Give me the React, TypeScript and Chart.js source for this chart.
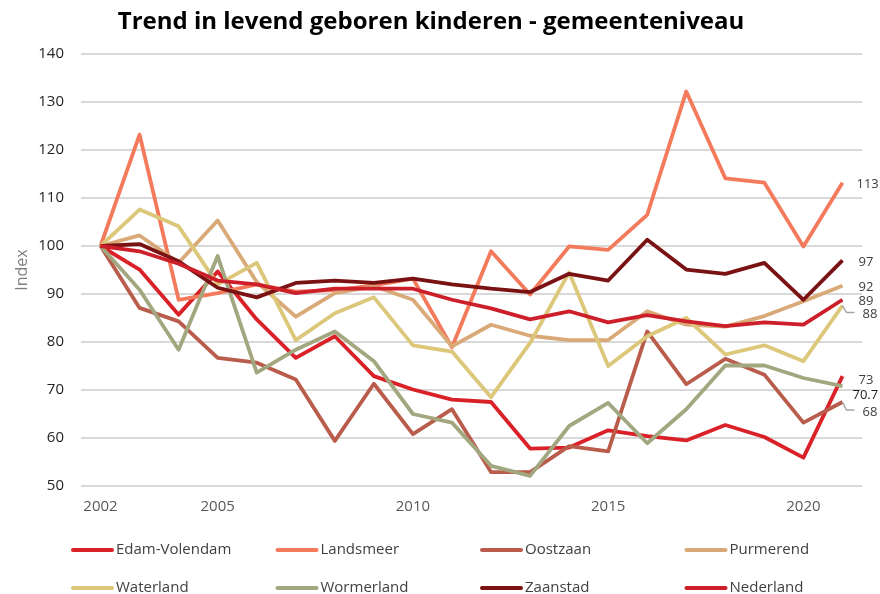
import React, { useEffect, useRef } from "react";
import { Chart, registerables } from "chart.js";

Chart.register(...registerables);

const years = ["2002", "2003", "2004", "2005", "2006", "2007", "2008", "2009", "2010", "2011", "2012", "2013", "2014", "2015", "2016", "2017", "2018", "2019", "2020", "2021"];
const xTickLabels = ["2002", "2005", "2010", "2015", "2020"];
const yTicks = [50, 60, 70, 80, 90, 100, 110, 120, 130, 140];

const seriesNames = ["Edam-Volendam", "Landsmeer", "Oostzaan", "Purmerend", "Waterland", "Wormerland", "Zaanstad", "Nederland"];

const edamVolendam = [100, 95.1, 85.7, 94.7, 84.7, 76.7, 81.2, 72.9, 70.1, 68.0, 67.5, 57.8, 58.0, 61.6, 60.4, 59.5, 62.7, 60.2, 55.9, 72.9];
const landsmeer = [100, 123.2, 88.8, 90.2, 92.0, 90.5, 90.8, 91.8, 93.2, 78.9, 98.9, 89.9, 99.9, 99.2, 106.5, 132.2, 114.1, 113.2, 99.9, 113.2];
const oostzaan = [100, 87.1, 84.3, 76.7, 75.7, 72.2, 59.4, 71.3, 60.8, 66.0, 52.9, 52.9, 58.3, 57.2, 82.2, 71.2, 76.5, 73.2, 63.2, 67.5];
const purmerend = [100, 102.2, 96.5, 105.3, 92.5, 85.3, 90.2, 91.6, 88.8, 79.1, 83.6, 81.3, 80.4, 80.4, 86.4, 83.6, 83.2, 85.4, 88.5, 91.7];
const waterland = [100, 107.6, 104.1, 92.0, 96.5, 80.4, 86.0, 89.3, 79.3, 78.0, 68.5, 79.8, 94.5, 75.0, 81.2, 85.0, 77.4, 79.3, 76.0, 87.6];
const wormerland = [100, 90.9, 78.4, 97.9, 73.6, 78.4, 82.2, 76.0, 65.0, 63.2, 54.2, 52.1, 62.5, 67.3, 58.9, 66.0, 75.1, 75.1, 72.5, 70.8];
const zaanstad = [100, 100.4, 96.8, 91.3, 89.3, 92.3, 92.8, 92.3, 93.2, 92.0, 91.1, 90.4, 94.2, 92.8, 101.3, 95.1, 94.2, 96.5, 88.8, 97.0];
const nederland = [100, 98.9, 96.3, 92.8, 92.0, 90.2, 91.1, 91.1, 91.1, 88.8, 87.0, 84.7, 86.4, 84.1, 85.6, 84.3, 83.3, 84.1, 83.6, 88.8];

const endLabels = ["73", "113", "68", "92", "88", "70.7", "97", "89"];

const seriesValues = [edamVolendam, landsmeer, oostzaan, purmerend, waterland, wormerland, zaanstad, nederland];
const seriesColors = ["#da2128", "#f47a5c", "#b95c4b", "#d9a978", "#dcc77a", "#a3a77f", "#7a1214", "#cc1f29"];

const FONT = "'Open Sans', 'Noto Sans', sans-serif";

// label placement style (dx, dy, leader, colour) per series
const endLabelStyle: Record<string, { dx: number; dy: number; leader?: boolean; color?: string }> = {
  "Edam-Volendam": { dx: 16, dy: 4 },
  Landsmeer: { dx: 14, dy: 2 },
  Oostzaan: { dx: 20, dy: 10, leader: true },
  Purmerend: { dx: 16, dy: 1 },
  Waterland: { dx: 20, dy: 9, leader: true },
  Wormerland: { dx: 10, dy: 9, color: "#1a1a1a" },
  Zaanstad: { dx: 16, dy: 2 },
  Nederland: { dx: 16, dy: 2 },
};

const endLabelPlugin = {
  id: "endLabels",
  afterDatasetsDraw(chart: any) {
    const ctx = chart.ctx;
    ctx.save();
    ctx.font = `13px ${FONT}`;
    ctx.textBaseline = "middle";
    ctx.textAlign = "left";
    chart.data.datasets.forEach((ds: any, i: number) => {
      const meta = chart.getDatasetMeta(i);
      const pt = meta.data[meta.data.length - 1];
      if (!pt) return;
      const st = endLabelStyle[ds.label] || { dx: 16, dy: 0 };
      const x = pt.x + st.dx;
      const y = pt.y + st.dy;
      if (st.leader) {
        ctx.strokeStyle = "#a6a6a6";
        ctx.lineWidth = 1.5;
        ctx.beginPath();
        ctx.moveTo(pt.x, pt.y);
        ctx.lineTo(pt.x + 4, pt.y + st.dy - 2);
        ctx.lineTo(pt.x + 12, pt.y + st.dy - 2);
        ctx.stroke();
      }
      ctx.fillStyle = st.color || "#404040";
      ctx.fillText(endLabels[i], x, y);
    });
    ctx.restore();
  },
};

const legendPlugin = {
  id: "gridLegend",
  afterDraw(chart: any) {
    const ctx = chart.ctx;
    ctx.save();
    ctx.font = `15px ${FONT}`;
    ctx.textBaseline = "middle";
    ctx.textAlign = "left";
    const cols = 4;
    const colW = 204.5;
    const x0 = 72;
    const rowY = [550, 588];
    chart.data.datasets.forEach((ds: any, i: number) => {
      const c = i % cols;
      const r = Math.floor(i / cols);
      const x = x0 + c * colW;
      const y = rowY[r];
      ctx.strokeStyle = ds.borderColor;
      ctx.lineWidth = 4;
      ctx.lineCap = "round";
      ctx.beginPath();
      ctx.moveTo(x + 1, y);
      ctx.lineTo(x + 40, y);
      ctx.stroke();
      ctx.fillStyle = "#404040";
      ctx.fillText(ds.label, x + 44, y);
    });
    ctx.restore();
  },
};

export default function App() {
  const ref = useRef<HTMLCanvasElement | null>(null);

  useEffect(() => {
    if (!ref.current) return;
    const chart = new Chart(ref.current, {
      type: "line",
      data: {
        labels: years,
        datasets: seriesNames.map((name, i) => ({
          label: name,
          data: seriesValues[i],
          borderColor: seriesColors[i],
          backgroundColor: seriesColors[i],
          borderWidth: 3.8,
          pointRadius: 0,
          pointHoverRadius: 0,
          tension: 0,
          fill: false,
          order: -i,
          borderJoinStyle: "round" as const,
        })),
      },
      options: {
        animation: false,
        responsive: true,
        maintainAspectRatio: false,
        layout: { padding: { left: 0, right: 18, top: 0, bottom: 78 } },
        plugins: {
          legend: { display: false },
          tooltip: { enabled: false },
          title: {
            display: true,
            text: "Trend in levend geboren kinderen - gemeenteniveau",
            color: "#000000",
            font: { family: FONT, size: 24, weight: "bold" },
            padding: { top: 8, bottom: 17.2 },
          },
        },
        scales: {
          x: {
            type: "category",
            offset: true,
            grid: { display: false, drawTicks: false },
            border: { display: false },
            ticks: {
              autoSkip: false,
              maxRotation: 0,
              padding: 12,
              color: "#595959",
              font: { family: FONT, size: 15 },
              callback: function (this: any, val: any) {
                const lab = this.getLabelForValue(val);
                return xTickLabels.includes(lab) ? lab : "";
              },
            },
            afterFit: (scale: any) => {
              scale.height = 30;
            },
          },
          y: {
            min: 50,
            max: 140,
            afterBuildTicks: (scale: any) => {
              scale.ticks = yTicks.map((v) => ({ value: v }));
            },
            grid: { color: "#d9d9d9", lineWidth: 2, drawTicks: false },
            border: { display: false },
            ticks: {
              padding: 17,
              color: "#262626",
              font: { family: FONT, size: 15 },
            },
            title: {
              display: true,
              text: "Index",
              color: "#7f7f7f",
              font: { family: FONT, size: 16 },
              padding: { top: 13, bottom: 0 },
            },
            afterFit: (scale: any) => {
              scale.width = 81;
            },
          },
        },
      },
      plugins: [endLabelPlugin, legendPlugin],
    });
    return () => chart.destroy();
  }, []);

  return (
    <div style={{ position: "fixed", left: 0, top: 0, width: 880, height: 594, background: "#ffffff" }}>
      <canvas ref={ref} />
    </div>
  );
}
